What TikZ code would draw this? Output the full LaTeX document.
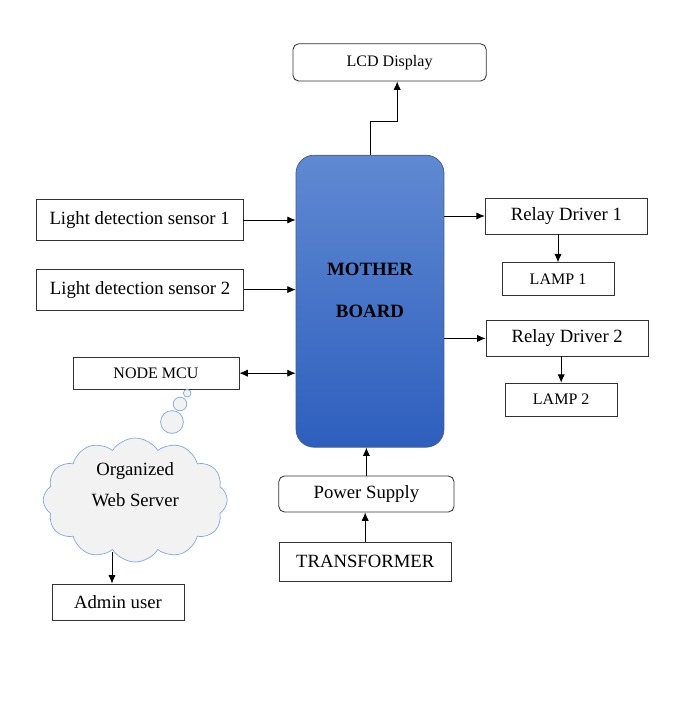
\documentclass[tikz,border=0pt]{standalone}
\usepackage{fontspec}
\setmainfont{Liberation Serif}
\usepackage{xcolor}
\definecolor{mbtop}{HTML}{6089D2}
\definecolor{mbbot}{HTML}{2E5FBE}
\definecolor{mbedge}{HTML}{4A5A78}
\definecolor{cloudline}{HTML}{80A8D8}
\definecolor{cloudfill}{HTML}{F2F2F2}
\usepackage{tikz}
\usetikzlibrary{arrows.meta,positioning,calc,shapes.symbols}

\begin{document}
\begin{tikzpicture}[
  blk/.style={rectangle,draw=black!80,line width=0.6pt,fill=white,inner sep=0pt,
              font=\fontsize{13.3}{16}\selectfont},
  rblk/.style={blk,rounded corners=4pt},
  sblk/.style={blk,font=\fontsize{11.4}{14}\selectfont},
  puff/.style={circle,draw=cloudline,fill=cloudfill,line width=0.5pt,inner sep=0pt},
  arr/.style={-{Latex[length=2.1mm,width=1.8mm]},line width=0.6pt},
  dbl/.style={{Latex[length=2.1mm,width=1.8mm]}-{Latex[length=2.1mm,width=1.8mm]},line width=0.6pt}]
\useasboundingbox (0,0) rectangle (17.45,-17.55);
% main board
\node[rectangle,rounded corners=0.45cm,draw=mbedge,line width=0.5pt,
      top color=mbtop,bottom color=mbbot,minimum width=3.7cm,minimum height=7.3cm]
  (mb) at (9.25,-7.53) {};
\node[font=\bfseries\fontsize{13.4}{16}\selectfont,align=center] (mbtxt) at (9.25,-7.25)
  {MOTHER\\[14pt]BOARD};
% inputs
\node[blk,minimum width=5.17cm,minimum height=1.03cm] (s1) at (3.49,-5.5)
  {Light detection sensor 1};
\node[blk,minimum width=5.17cm,minimum height=1.03cm] (s2) at (3.5,-7.24)
  {Light detection sensor 2};
\node[sblk,minimum width=4.15cm,minimum height=0.8cm] (mcu) at (3.9,-9.33) {NODE MCU};
% outputs
\node[rblk,font=\fontsize{11.4}{14}\selectfont,minimum width=4.83cm,minimum height=0.93cm]
  (lcd) at (9.74,-1.56) {LCD Display};
\node[blk,minimum width=4.06cm,minimum height=0.9cm] (r1) at (14.16,-5.4) {Relay Driver 1};
\node[sblk,minimum width=2.8cm,minimum height=0.82cm] (l1) at (13.95,-6.98) {LAMP 1};
\node[blk,minimum width=4.06cm,minimum height=0.88cm] (r2) at (14.18,-8.46) {Relay Driver 2};
\node[sblk,minimum width=2.8cm,minimum height=0.82cm] (l2) at (14.03,-9.99) {LAMP 2};
% supply
\node[rblk,minimum width=4.38cm,minimum height=0.9cm] (ps) at (9.16,-12.35) {Power Supply};
\node[blk,minimum width=4.3cm,minimum height=0.97cm] (tr) at (9.13,-14.04) {TRANSFORMER};
% server
\node[puff,minimum size=0.19cm] (b1) at (4.68,-9.83) {};
\node[puff,minimum size=0.34cm] (b2) at (4.5,-10.1) {};
\node[puff,minimum size=0.57cm] (b3) at (4.3,-10.55) {};
\node[cloud,cloud puffs=12,cloud puff arc=115,aspect=1.45,draw=cloudline,fill=cloudfill,
      line width=0.5pt,minimum width=4.6cm,minimum height=3.1cm,
      label={[font=\fontsize{13.3}{16}\selectfont,align=center,yshift=0.38cm]center:Organized\\[6pt]Web Server}]
  (srv) at (3.38,-12.5) {};
\node[blk,minimum width=3.3cm,minimum height=0.92cm] (adm) at (2.95,-15.06) {Admin user};
% connectors
\coordinate (bend) at (9.93,-3.03);
\coordinate (srvout) at ([yshift=0.25cm]srv.south);
\draw[arr] (mb.north) |- (bend) -- (bend |- lcd.south);
\draw[arr] (s1.east) -- (s1.east -| mb.west);
\draw[arr] (s2.east) -- (s2.east -| mb.west);
\draw[dbl] (mcu.east) -- (mcu.east -| mb.west);
\draw[arr] (r1.west -| mb.east) -- (r1.west);
\draw[arr] (r2.west -| mb.east) -- (r2.west);
\draw[arr] (r1.south -| l1.north) -- (l1.north);
\draw[arr] (r2.south -| l2.north) -- (l2.north);
\draw[arr] (tr.north) -- (tr.north |- ps.south);
\draw[arr] (ps.north) -- (ps.north |- mb.south);
\draw[arr] ([xshift=-0.15cm]adm.north |- srvout) -- ([xshift=-0.15cm]adm.north);
\end{tikzpicture}
\end{document}
